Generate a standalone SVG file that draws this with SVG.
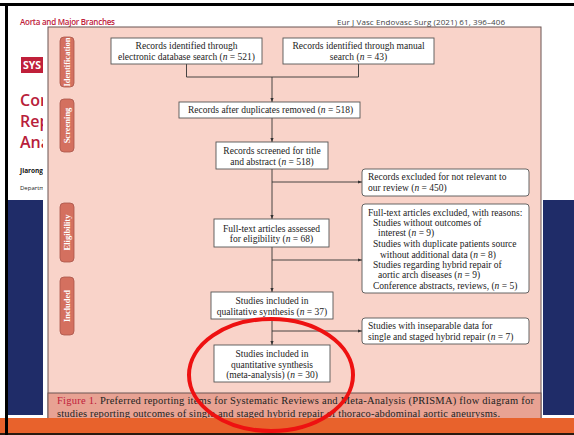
<svg xmlns="http://www.w3.org/2000/svg" width="574" height="435" viewBox="0 0 574 435">
<defs>
<style>
.bx{fill:#ffffff;stroke:#555;stroke-width:0.9}
.t{font-family:"Liberation Serif","Times New Roman",serif;font-size:9.5px;fill:#222}
.c{text-anchor:middle}
.lab{fill:#d4705f;stroke:#a9564a;stroke-width:0.8}
.lt{font-family:"Liberation Serif","Times New Roman",serif;font-size:8.5px;font-weight:bold;fill:#fff;text-anchor:middle}
.ln{fill:none;stroke:#333;stroke-width:0.9}
.sl{font-family:"Open Sans","Liberation Sans",Arial,sans-serif}
</style>
<marker id="ah" viewBox="0 0 10 10" refX="10" refY="5" markerWidth="5" markerHeight="5" orient="auto">
<path d="M0,1 L10,5 L0,9 Z" fill="#333"/>
</marker>
<clipPath id="slideclip"><rect x="8" y="0" width="35" height="435"/></clipPath>
</defs>
<rect x="0" y="0" width="574" height="435" fill="#ffffff"/>
<!-- slide background -->
<rect x="8" y="200" width="35" height="215" fill="#1f2c68"/>
<rect x="543" y="200" width="31" height="215" fill="#1f2c68"/>
<g clip-path="url(#slideclip)">
<rect x="21" y="57" width="30" height="16" fill="#c0203a"/>
<text x="23" y="69" class="sl" font-size="10.5" font-weight="bold" fill="#fff">SYS</text>
<text x="20" y="106" class="sl" font-size="16" font-weight="600" fill="#b8203a">Cor</text>
<text x="20" y="127" class="sl" font-size="16" font-weight="600" fill="#b8203a">Rep</text>
<text x="20" y="148" class="sl" font-size="16" font-weight="600" fill="#b8203a">Ana</text>
<text x="20" y="173" class="sl" font-size="6.5" font-weight="bold" fill="#111">Jiarong</text>
<text x="20" y="190" class="sl" font-size="6" fill="#222">Departm</text>
</g>
<!-- header -->
<text x="20" y="25" class="sl" font-size="8" font-weight="600" fill="#c0203a" textLength="95">Aorta and Major Branches</text>
<text x="337" y="25" class="sl" font-size="8" fill="#444" textLength="168">Eur J Vasc Endovasc Surg (2021) 61, 396–406</text>
<!-- panel -->
<rect x="48" y="27" width="493" height="400" fill="#f9d3c9" stroke="#6b5552" stroke-width="1"/>
<rect x="48" y="393" width="493" height="34" fill="#e8a293" stroke="#6b5552" stroke-width="1"/>
<text x="57" y="404" font-family="'Liberation Serif','Times New Roman',serif" font-size="10.5" fill="#222" textLength="477" lengthAdjust="spacing"><tspan fill="#c0203a">Figure 1.</tspan> Preferred reporting items for Systematic Reviews and Meta-Analysis (PRISMA) flow diagram for</text>
<text x="57" y="417" font-family="'Liberation Serif','Times New Roman',serif" font-size="10.5" fill="#222" textLength="443" lengthAdjust="spacing">studies reporting outcomes of single and staged hybrid repair of thoraco-abdominal aortic aneurysms.</text>
<!-- side labels -->
<g id="lab-identification"><rect class="lab" x="60" y="37" width="14" height="50" rx="4"/><text class="lt" transform="translate(70,62) rotate(-90)">Identification</text></g>
<g id="lab-screening"><rect class="lab" x="60" y="99" width="14" height="53" rx="4"/><text class="lt" transform="translate(70,125.5) rotate(-90)">Screening</text></g>
<g id="lab-eligibility"><rect class="lab" x="60" y="203" width="14" height="59" rx="4"/><text class="lt" transform="translate(70,232.5) rotate(-90)">Eligibility</text></g>
<g id="lab-included"><rect class="lab" x="60" y="277" width="14" height="58" rx="4"/><text class="lt" transform="translate(70,306) rotate(-90)">Included</text></g>
<!-- connectors -->
<g id="connectors">
<polyline class="ln" points="186.5,64 186.5,77 358.5,77 358.5,64"/>
<line class="ln" x1="272" y1="77" x2="272" y2="102" marker-end="url(#ah)"/>
<line class="ln" x1="272" y1="118" x2="272" y2="142" marker-end="url(#ah)"/>
<line class="ln" x1="272" y1="169" x2="272" y2="219" marker-end="url(#ah)"/>
<line class="ln" x1="272" y1="182" x2="362" y2="182" marker-end="url(#ah)"/>
<line class="ln" x1="272" y1="247" x2="272" y2="292" marker-end="url(#ah)"/>
<line class="ln" x1="272" y1="260" x2="362" y2="260" marker-end="url(#ah)"/>
<line class="ln" x1="272" y1="319" x2="272" y2="345" marker-end="url(#ah)"/>
<line class="ln" x1="272" y1="331" x2="362" y2="331" marker-end="url(#ah)"/>
</g>
<!-- nodes -->
<g id="n-database"><rect class="bx" x="111" y="38" width="151" height="26"/>
<text class="t c" x="186.5" y="48.5">Records identified through</text>
<text class="t c" x="186.5" y="59.5">electronic database search (<tspan font-style="italic">n</tspan> = 521)</text></g>
<g id="n-manual"><rect class="bx" x="283" y="38" width="151" height="26"/>
<text class="t c" x="358.5" y="48.5">Records identified through manual</text>
<text class="t c" x="358.5" y="59.5">search (<tspan font-style="italic">n</tspan> = 43)</text></g>
<g id="n-duplicates"><rect class="bx" x="179" y="102" width="181" height="16"/>
<text class="t c" x="270.5" y="113.3">Records after duplicates removed (<tspan font-style="italic">n</tspan> = 518)</text></g>
<g id="n-screened"><rect class="bx" x="216" y="142" width="112" height="27"/>
<text class="t c" x="272" y="153.5">Records screened for title</text>
<text class="t c" x="272" y="164.5">and abstract (<tspan font-style="italic">n</tspan> = 518)</text></g>
<g id="n-excluded1"><rect class="bx" x="362" y="169" width="167" height="27" rx="3"/>
<text class="t" x="368" y="180">Records excluded for not relevant to</text>
<text class="t" x="368" y="190.5">our review (<tspan font-style="italic">n</tspan> = 450)</text></g>
<g id="n-fulltext"><rect class="bx" x="214" y="219" width="115" height="28"/>
<text class="t c" x="271.5" y="232">Full-text articles assessed</text>
<text class="t c" x="271.5" y="242">for eligibility (<tspan font-style="italic">n</tspan> = 68)</text></g>
<g id="n-excluded2"><rect class="bx" x="362" y="204" width="167" height="89" rx="3"/>
<text class="t" x="368" y="215.5">Full-text articles excluded, with reasons:</text>
<text class="t" x="373" y="225.8">Studies without outcomes of</text>
<text class="t" x="378" y="236.2">interest (<tspan font-style="italic">n</tspan> = 9)</text>
<text class="t" x="373" y="247.3">Studies with duplicate patients source</text>
<text class="t" x="380" y="257.6">without additional data (<tspan font-style="italic">n</tspan> = 8)</text>
<text class="t" x="373" y="267.8">Studies regarding hybrid repair of</text>
<text class="t" x="378" y="278.2">aortic arch diseases (<tspan font-style="italic">n</tspan> = 9)</text>
<text class="t" x="373" y="288.5">Conference abstracts, reviews, (<tspan font-style="italic">n</tspan> = 5)</text></g>
<g id="n-qualitative"><rect class="bx" x="211" y="292" width="122" height="27"/>
<text class="t c" x="272" y="304">Studies included in</text>
<text class="t c" x="272" y="314.5">qualitative synthesis (<tspan font-style="italic">n</tspan> = 37)</text></g>
<g id="n-inseparable"><rect class="bx" x="362" y="318" width="167" height="26" rx="3"/>
<text class="t" x="368" y="329">Studies with inseparable data for</text>
<text class="t" x="368" y="339.5">single and staged hybrid repair (<tspan font-style="italic">n</tspan> = 7)</text></g>
<g id="n-quantitative"><rect class="bx" x="214" y="345" width="116" height="37"/>
<text class="t c" x="272" y="357">Studies included in</text>
<text class="t c" x="272" y="367.5">quantitative synthesis</text>
<text class="t c" x="272" y="378">(meta-analysis) (<tspan font-style="italic">n</tspan> = 30)</text></g>
<!-- slide frame -->
<rect x="0" y="418" width="574" height="15" fill="#e8622c"/>
<rect x="0" y="433" width="574" height="2" fill="#2a1a10"/>
<rect x="0" y="3" width="574" height="3" fill="#000"/>
<rect x="5" y="3" width="3" height="432" fill="#000"/>
<!-- highlight ellipse -->
<ellipse cx="271" cy="375" rx="82" ry="56" fill="none" stroke="#ee1111" stroke-width="4"/>
</svg>
